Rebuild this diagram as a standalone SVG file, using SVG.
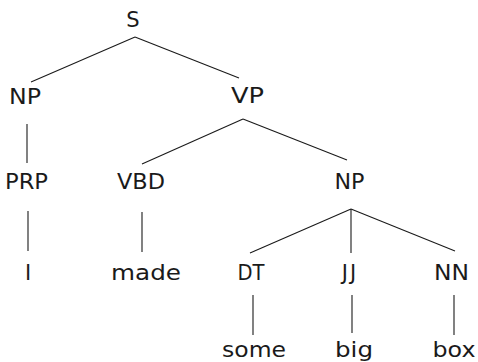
<svg xmlns="http://www.w3.org/2000/svg" width="478" height="362" viewBox="0 0 478 362">
  <style>
    .edge { stroke: #1a1a1a; stroke-width: 1.1; fill: none; stroke-linecap: butt; }
    .label { font-family: "DejaVu Sans", "Liberation Sans", sans-serif; font-size: 21px; fill: #1a1a1a; text-anchor: middle; }
    .word { font-size: 22px; }
  </style>
  <rect width="478" height="362" fill="#ffffff"/>

  <!-- tree edges -->
  <g id="edges">
    <line class="edge" x1="135" y1="37" x2="31" y2="82"/>
    <line class="edge" x1="135" y1="37" x2="239" y2="78"/>
    <line class="edge" x1="27" y1="124" x2="27" y2="163"/>
    <line class="edge" x1="243" y1="119" x2="142" y2="164"/>
    <line class="edge" x1="243" y1="119" x2="347" y2="160"/>
    <line class="edge" x1="28" y1="211" x2="28" y2="251"/>
    <line class="edge" x1="142" y1="212" x2="142" y2="252"/>
    <line class="edge" x1="351" y1="209" x2="250" y2="253"/>
    <line class="edge" x1="351" y1="209" x2="351" y2="253"/>
    <line class="edge" x1="351" y1="209" x2="455" y2="251"/>
    <line class="edge" x1="253" y1="295" x2="253" y2="335"/>
    <line class="edge" x1="352" y1="295" x2="352" y2="333"/>
    <line class="edge" x1="454" y1="295" x2="454" y2="335"/>
  </g>

  <!-- nodes -->
  <g id="node-S"><text class="label" x="133" y="27">S</text></g>
  <g id="node-NP1"><text class="label" x="25" y="104" textLength="32" lengthAdjust="spacingAndGlyphs">NP</text></g>
  <g id="node-VP"><text class="label" x="247.5" y="103" textLength="33" lengthAdjust="spacingAndGlyphs">VP</text></g>
  <g id="node-PRP"><text class="label" x="26.5" y="189" textLength="43" lengthAdjust="spacingAndGlyphs">PRP</text></g>
  <g id="node-VBD"><text class="label" x="141" y="189" textLength="48" lengthAdjust="spacingAndGlyphs">VBD</text></g>
  <g id="node-NP2"><text class="label" x="349.5" y="189" textLength="30" lengthAdjust="spacingAndGlyphs">NP</text></g>
  <g id="node-I"><text class="label" x="28" y="280">I</text></g>
  <g id="node-made"><text class="label word" x="146" y="280" textLength="70" lengthAdjust="spacingAndGlyphs">made</text></g>
  <g id="node-DT"><text class="label" x="251" y="280" textLength="27" lengthAdjust="spacingAndGlyphs">DT</text></g>
  <g id="node-JJ"><text class="label" x="350" y="280" letter-spacing="2">JJ</text></g>
  <g id="node-NN"><text class="label" x="451.5" y="280" textLength="35" lengthAdjust="spacingAndGlyphs">NN</text></g>
  <g id="node-some"><text class="label word" x="254" y="357" textLength="64" lengthAdjust="spacingAndGlyphs">some</text></g>
  <g id="node-big"><text class="label word" x="354" y="357" textLength="38" lengthAdjust="spacingAndGlyphs">big</text></g>
  <g id="node-box"><text class="label word" x="454" y="357" textLength="43" lengthAdjust="spacingAndGlyphs">box</text></g>
</svg>
